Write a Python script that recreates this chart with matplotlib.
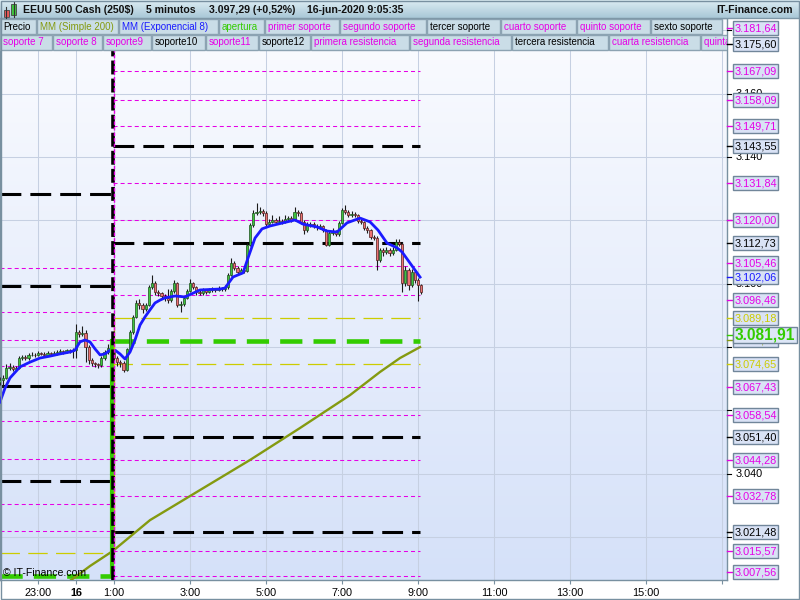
import numpy as np
import matplotlib.pyplot as plt
from matplotlib import transforms
from matplotlib.colors import LinearSegmentedColormap
from matplotlib.patches import Rectangle

plt.rcParams['font.family'] = ['Liberation Sans', 'DejaVu Sans']
plt.rcParams['lines.scale_dashes'] = False

# ---------------- data ----------------
# 5 minute bars, time in hours from 0:00 on 16-jun (first bar 22:00 on the 15th)
bar_start_hour = -2.0
first_open = 3069.0
closes = [3069.5, 3070.1, 3073.5, 3073.8, 3073.0, 3073.2, 3076.4, 3076.7, 3076.4, 3077.3,
          3077.6, 3077.4, 3078.0, 3077.8, 3077.6, 3078.0, 3077.7, 3078.0, 3078.3, 3078.6,
          3078.4, 3078.9, 3078.7, 3079.0, 3084.6, 3084.0, 3084.3, 3079.9, 3075.8, 3074.8,
          3074.5, 3074.2, 3076.4, 3078.3, 3079.6, 3078.3, 3076.4, 3075.1, 3074.8, 3072.6,
          3079.2, 3084.6, 3089.4, 3093.8, 3093.2, 3091.9, 3093.2, 3098.9, 3100.1, 3097.3,
          3097.0, 3096.0, 3095.4, 3094.7, 3097.6, 3100.1, 3093.2, 3093.5, 3095.4, 3097.6,
          3100.1, 3098.9, 3097.3, 3097.0, 3097.9, 3097.3, 3097.9, 3098.2, 3098.0, 3098.5,
          3098.2, 3098.9, 3102.7, 3106.5, 3104.9, 3103.6, 3104.2, 3104.0, 3112.2, 3118.5,
          3122.3, 3122.6, 3122.9, 3122.3, 3118.8, 3119.4, 3120.1, 3119.4, 3119.7, 3119.5,
          3120.4, 3120.7, 3120.1, 3122.6, 3122.3, 3119.4, 3116.9, 3118.5, 3118.8, 3118.2,
          3117.8, 3118.1, 3116.9, 3112.2, 3115.9, 3116.3, 3115.6, 3119.1, 3123.2, 3122.6,
          3121.6, 3121.9, 3121.6, 3119.7, 3119.4, 3117.5, 3116.9, 3114.7, 3114.4, 3107.4,
          3110.6, 3110.0, 3110.6, 3109.6, 3110.6, 3113.1, 3112.5, 3100.1, 3104.2, 3099.5,
          3103.6, 3101.1, 3099.5, 3097.3]
highs = [3070.5, 3071.0, 3074.5, 3075.0, 3074.3, 3074.0, 3077.0, 3077.5, 3077.3, 3078.0,
         3078.5, 3078.2, 3078.6, 3078.5, 3078.3, 3078.6, 3078.4, 3078.6, 3079.0, 3079.2,
         3079.0, 3079.5, 3079.3, 3079.6, 3087.2, 3085.5, 3086.5, 3085.3, 3080.5, 3076.4,
         3075.4, 3075.0, 3077.0, 3079.0, 3081.0, 3080.2, 3078.8, 3077.0, 3075.8, 3075.5,
         3079.8, 3085.5, 3090.2, 3094.8, 3095.0, 3093.8, 3094.0, 3099.5, 3102.7, 3100.8,
         3098.0, 3097.5, 3096.8, 3098.3, 3098.4, 3101.0, 3100.6, 3094.5, 3096.2, 3098.3,
         3101.5, 3100.6, 3099.4, 3098.0, 3098.6, 3098.4, 3098.5, 3098.8, 3098.7, 3099.1,
         3099.0, 3099.6, 3103.3, 3108.0, 3107.0, 3105.5, 3104.9, 3104.8, 3112.8, 3119.2,
         3123.4, 3125.6, 3124.2, 3123.6, 3122.8, 3120.3, 3121.6, 3120.8, 3121.3, 3120.4,
         3121.8, 3121.5, 3121.4, 3124.2, 3123.2, 3122.8, 3120.0, 3119.4, 3119.6, 3119.5,
         3118.9, 3118.8, 3118.6, 3117.4, 3116.6, 3117.5, 3117.0, 3119.8, 3123.8, 3124.8,
         3123.4, 3123.0, 3122.6, 3122.1, 3120.4, 3119.9, 3118.2, 3117.4, 3115.4, 3114.9,
         3111.3, 3111.4, 3111.5, 3111.2, 3111.6, 3114.0, 3114.2, 3113.0, 3105.5, 3104.8,
         3104.5, 3104.2, 3101.8, 3100.0]
lows = [3068.0, 3067.5, 3069.8, 3072.8, 3072.5, 3072.5, 3073.0, 3076.0, 3075.8, 3076.0,
        3077.0, 3076.9, 3077.0, 3077.3, 3077.1, 3077.2, 3077.2, 3077.3, 3077.6, 3077.9,
        3077.9, 3078.0, 3078.2, 3076.5, 3076.5, 3083.0, 3083.5, 3075.1, 3074.5, 3074.0,
        3073.8, 3073.5, 3073.8, 3076.0, 3077.8, 3077.5, 3075.5, 3074.0, 3073.8, 3072.0,
        3072.3, 3078.8, 3084.0, 3089.0, 3092.0, 3090.8, 3091.3, 3092.8, 3098.3, 3096.5,
        3096.2, 3095.2, 3094.6, 3093.8, 3094.2, 3097.0, 3092.5, 3091.0, 3093.0, 3095.0,
        3097.2, 3098.2, 3096.5, 3096.3, 3096.5, 3096.8, 3096.9, 3097.4, 3097.5, 3097.6,
        3097.7, 3097.8, 3098.4, 3102.3, 3104.2, 3103.0, 3103.1, 3103.3, 3103.6, 3111.8,
        3118.0, 3121.7, 3121.9, 3121.5, 3118.0, 3118.2, 3119.0, 3118.8, 3118.9, 3118.9,
        3119.0, 3119.9, 3119.5, 3119.8, 3121.5, 3118.8, 3115.8, 3116.4, 3118.0, 3117.6,
        3117.0, 3117.2, 3116.3, 3112.0, 3112.0, 3115.4, 3115.0, 3115.2, 3118.7, 3122.0,
        3121.0, 3121.1, 3121.0, 3119.1, 3118.7, 3116.9, 3116.1, 3114.0, 3113.8, 3104.2,
        3106.9, 3108.6, 3109.3, 3108.8, 3109.0, 3110.2, 3111.8, 3097.5, 3099.3, 3098.0,
        3099.0, 3100.3, 3094.4, 3096.8]

# MM (Exponencial 8)
ema_hours = [-2.0, -1.868, -1.737, -1.474, -1.211, -0.947, -0.684, -0.421, -0.158, -0.026,
             0.105, 0.237, 0.368, 0.5, 0.632, 0.763, 0.895, 1.026, 1.158, 1.289,
             1.421, 1.553, 1.684, 1.816, 1.947, 2.079, 2.211, 2.342, 2.605, 2.868,
             3.263, 3.789, 3.921, 4.132, 4.395, 4.526, 4.711, 4.895, 5.105, 5.447,
             5.763, 5.974, 6.342, 6.605, 6.868, 7.132, 7.474, 7.737, 7.947, 8.184,
             8.447, 8.579, 8.789, 9.053]
ema_values = [3062.6, 3067.0, 3070.2, 3073.7, 3075.2, 3076.5, 3077.1, 3077.8, 3078.4, 3079.0,
              3081.6, 3082.2, 3081.6, 3079.4, 3077.5, 3077.8, 3079.0, 3079.0, 3077.8, 3076.2,
              3078.4, 3082.2, 3086.9, 3089.5, 3091.7, 3093.9, 3094.8, 3095.5, 3096.1, 3095.8,
              3098.0, 3098.3, 3098.6, 3102.1, 3103.4, 3108.1, 3114.4, 3117.3, 3118.2, 3119.2,
              3120.1, 3118.8, 3117.9, 3116.6, 3116.3, 3119.2, 3120.7, 3119.5, 3116.9, 3112.8,
              3111.3, 3110.0, 3106.5, 3102.06]

# MM (Simple 200)
sma_hours = [-0.35, 0.368, 0.974, 1.947, 3.263, 4.579, 5.895, 7.211, 8.0, 8.526, 9.053]
sma_values = [3004.4, 3010.8, 3015.6, 3025.3, 3034.8, 3044.3, 3054.4, 3064.8, 3072.1, 3076.5, 3079.96]

# pivot levels: previous session (before 1:00) and current session
magenta_prev = [3104.9, 3091.0, 3082.1, 3073.9, 3056.5, 3044.7, 3030.5, 3022.0]
black_prev = [3128.3, 3099.2, 3067.8, 3037.8]
yellow_prev = [3014.97]
open_prev = 3007.7

magenta_now = [3181.64, 3167.09, 3158.09, 3149.71, 3131.84, 3120.00, 3105.46, 3096.46,
               3067.43, 3058.54, 3044.28, 3032.78, 3015.57, 3007.56]
black_now = [3175.60, 3143.55, 3112.73, 3051.40, 3021.48]
yellow_now = [3089.18, 3074.65]
open_now = 3081.91
sma_last = 3079.96
ema_last = 3102.06

# price grid values; only some of their texts show past the label boxes
grid_prices = [3020, 3040, 3060, 3080, 3100, 3120, 3140, 3160, 3180]
grid_texts = [3040, 3100, 3140, 3160]

x_ticks = [-1, 0, 1, 3, 5, 7, 9, 11, 13, 15, 17]
x_labels = ['23:00', '16', '1:00', '3:00', '5:00', '7:00', '9:00', '11:00', '13:00', '15:00', '']

legend_row1 = [('Precio', 'black'), ('MM (Simple 200)', 'olive'), ('MM (Exponencial 8)', 'blue'),
               ('apertura', 'green'), ('primer soporte', 'mag'), ('segundo soporte', 'mag'),
               ('tercer soporte', 'black'), ('cuarto soporte', 'mag'), ('quinto soporte', 'mag'),
               ('sexto soporte', 'black')]
legend_row2 = [('soporte 7', 'mag'), ('soporte 8', 'mag'), ('soporte9', 'mag'), ('soporte10', 'black'),
               ('soporte11', 'mag'), ('soporte12', 'black'), ('primera resistencia', 'mag'),
               ('segunda resistencia', 'mag'), ('tercera resistencia', 'black'),
               ('cuarta resistencia', 'mag'), ('quinta resistencia', 'mag')]

COL = {'black': '#000000', 'mag': '#e600e6', 'olive': '#849a10', 'blue': '#1a1aff',
       'green': '#33cc00', 'yellow': '#cccc00'}

# ---------------- figure ----------------
W, H = 800, 600
fig = plt.figure(figsize=(8, 6), dpi=100)
ax = fig.add_axes([0, 20 / H, 727 / W, 562 / H])
x0, x1 = -2.0, 17.13
y0, y1 = 3006.39, 3183.90
h_sep, h_end = 0.974, 9.05

bg = LinearSegmentedColormap.from_list('bg', ['#d5e1f9', '#fbfcff'])
ax.imshow(np.linspace(0, 1, 256)[:, None], extent=[x0, x1, y0, y1], origin='lower',
          aspect='auto', cmap=bg, zorder=0)
ax.set_xlim(x0, x1)
ax.set_ylim(y0, y1)
ax.set_yticks(grid_prices)
ax.set_xticks(x_ticks)
ax.set_xticklabels(x_labels, fontsize=7.8)
ax.get_xticklabels()[1].set_fontweight('bold')
ax.grid(True, color='#c6d0e2', lw=0.75, zorder=1)
ax.tick_params(axis='y', left=False, labelleft=False)
ax.tick_params(axis='x', length=3, pad=2.5, color='#7890a0')
for s in ax.spines.values():
    s.set_color('#7890a0')
    s.set_linewidth(1)

# pivot levels
mag_style = dict(color=COL['mag'], lw=0.75, dashes=(2.9, 2.2), zorder=2)
blk_style = dict(color='black', lw=2.2, dashes=(15, 6.5), zorder=2.1)
yel_style = dict(color=COL['yellow'], lw=0.9, dashes=(14, 6), zorder=2)
grn_style = dict(color=COL['green'], lw=3.3, dashes=(16, 8), zorder=2.2)
for lev in magenta_prev:
    ax.plot([x0, h_sep], [lev, lev], **mag_style)
for lev in black_prev:
    ax.plot([x0, h_sep], [lev, lev], **blk_style)
for lev in yellow_prev:
    ax.plot([x0, h_sep], [lev, lev], **yel_style)
ax.plot([x0, h_sep], [open_prev, open_prev], **grn_style)
for lev in magenta_now:
    ax.plot([h_sep, h_end], [lev, lev], **mag_style)
for lev in black_now:
    ax.plot([h_sep, h_end], [lev, lev], **blk_style)
for lev in yellow_now:
    ax.plot([h_sep, h_end], [lev, lev], **yel_style)
ax.plot([h_sep, h_end], [open_now, open_now], **grn_style)

# candles
c = np.array(closes)
o = np.array([first_open] + closes[:-1])
t = bar_start_hour + np.arange(len(c)) / 12
up = c >= o
ax.vlines(t, lows, highs, color='#1a1a1a', lw=0.8, zorder=3)
ax.bar(t[up], (c - o)[up], bottom=o[up], width=0.058, color='#3ec43e',
       edgecolor='#1d4d1d', lw=0.5, zorder=3.1)
ax.bar(t[~up], (c - o)[~up], bottom=o[~up], width=0.058, color='#ec7272',
       edgecolor='#4d1d1d', lw=0.5, zorder=3.1)

ax.plot(sma_hours, sma_values, color=COL['olive'], lw=1.7, zorder=3.5)
ax.plot(ema_hours, ema_values, color=COL['blue'], lw=2.0, zorder=4)

# session change (steps of the pivot lines)
ax.plot([h_sep - 0.03] * 2, [open_prev, open_now], color=COL['green'], lw=3, zorder=4.5)
ax.plot([h_sep + 0.02] * 2, [yellow_prev[0], yellow_now[0]], color=COL['yellow'], lw=1, zorder=4.5)
ax.axvline(h_sep, color='black', lw=2.6, dashes=(10, 3), zorder=5)
ax.axvline(h_sep + 0.015, color=COL['mag'], lw=1.0, dashes=(2.5, 1.5), zorder=5.1)

# ---------------- overlay in pixels (y down) ----------------
ov = fig.add_axes([0, 0, 1, 1], zorder=10)
ov.axis('off')
tb = LinearSegmentedColormap.from_list('tb', ['#dcecf3', '#a9c8d7'])
ov.imshow(np.linspace(0, 1, 64)[:, None], extent=[0, W, 18, 0], origin='upper',
          aspect='auto', cmap=tb, zorder=0)
ov.set_xlim(0, W)
ov.set_ylim(H, 0)
ov.plot([0, W], [18, 18], color='#7f98a8', lw=1)

# title icon
ov.plot([6, 6], [7, 18], color='#333333', lw=0.8)
ov.add_patch(Rectangle((3.5, 10), 5, 6.5, fc='#e85a5a', ec='#444444', lw=0.6))
ov.plot([13.5, 13.5], [2, 17], color='#333333', lw=0.8)
ov.add_patch(Rectangle((11, 4), 5, 11, fc='#3ec43e', ec='#444444', lw=0.6))

title_style = dict(fontsize=7.6, fontweight='bold', va='center', color='#111111')
ov.text(23, 10, 'EEUU 500 Cash (250$)', **title_style)
ov.text(146, 10, '5 minutos', **title_style)
ov.text(209, 10, '3.097,29 (+0,52%)', **title_style)
ov.text(307, 10, '16-jun-2020 9:05:35', **title_style)
ov.text(793, 10, 'IT-Finance.com', ha='right', **title_style)

clip = Rectangle((0, 0), 727, H, transform=ov.transData, visible=False)
ov.add_patch(clip)
clip_box = transforms.TransformedBbox(transforms.Bbox.from_extents(0, 0, 727, H), ov.transData)


def legend_row(items, ytop, xstarts, xends):
    for (label, key), xa, xb in zip(items, xstarts, xends):
        r = Rectangle((xa, ytop), xb - xa, 15, fc='#cadde7', ec='#8ca3b2', lw=1)
        ov.add_patch(r)
        r.set_clip_path(clip)
        tx = ov.text(xa + 3, ytop + 7.5, label, fontsize=7.0, va='center', color=COL[key])
        tx.set_clip_box(clip_box)
        tx.set_clip_on(True)


legend_row(legend_row1, 19,
           [0, 37, 119, 219, 265, 340, 427, 501, 577, 651],
           [36, 118, 218, 264, 339, 426, 500, 576, 650, 722])
legend_row(legend_row2, 34.5,
           [0, 53, 103, 152, 206, 259, 311, 410, 512, 609, 701],
           [52, 102, 151, 205, 258, 310, 409, 511, 608, 700, 780])


# price axis on the right: price -> overlay pixel row via the main axes' scale
def py(v):
    disp = ax.transData.transform((0, v))
    return ov.transData.inverted().transform(disp)[1]


def fmt(v, dec=2):
    s = f'{v:,.{dec}f}'
    return s.replace(',', ' ').replace('.', ',').replace(' ', '.')


for v in grid_prices:
    ov.plot([727, 731], [py(v)] * 2, color='black', lw=0.8, zorder=5)
for v in grid_texts:
    ov.text(736, py(v), fmt(v, 0), fontsize=7.8, va='center', zorder=5)

price_labels = [(3181.64, 'mag', 3), (3175.60, 'black', 0), (3167.09, 'mag', 0),
                (3158.09, 'mag', 0), (3149.71, 'mag', 0), (3143.55, 'black', 0),
                (3131.84, 'mag', 0), (3120.00, 'mag', 0), (3112.73, 'black', 0),
                (3105.46, 'mag', -3.5), (ema_last, 'blue', 0), (3096.46, 'mag', 5),
                (3089.18, 'yellow', 0), (sma_last, 'olive', -7), (3074.65, 'yellow', 0),
                (3067.43, 'mag', 0), (3058.54, 'mag', 0), (3051.40, 'black', 0),
                (3044.28, 'mag', 0), (3032.78, 'mag', 0), (3021.48, 'black', 0),
                (3015.57, 'mag', 0), (3007.56, 'mag', -4)]
for i, (v, key, dy) in enumerate(price_labels):
    yc = py(v) + dy
    z = 10 + 2 * i
    ov.plot([727, 733], [yc, yc], color=COL[key], lw=1, zorder=z)
    ov.add_patch(Rectangle((733, yc - 7), 45, 14, fc='#d9e2f5', ec='#71869a', lw=1, zorder=z))
    ov.text(734.5, yc + 0.5, fmt(v), fontsize=7.8, va='center', color=COL[key], zorder=z + 1)

yc = py(open_now) - 6
ov.plot([727, 733], [yc, yc], color=COL['green'], lw=1, zorder=80)
ov.add_patch(Rectangle((733, yc - 8), 64, 16, fc='#dde6f7', ec='#71869a', lw=1, zorder=80))
ov.text(765, yc + 0.5, fmt(open_now), fontsize=11.2, fontweight='bold', va='center',
        ha='center', color=COL['green'], zorder=81)

ov.text(3, 573, '\u00a9 IT-Finance.com', fontsize=7.6, va='center', color='black')
ov.add_patch(Rectangle((0.5, 0.5), W - 1.5, H - 2, fill=False, ec='#7890a0', lw=1, zorder=90))

fig.savefig('out.png', dpi=100)
plt.close(fig)
